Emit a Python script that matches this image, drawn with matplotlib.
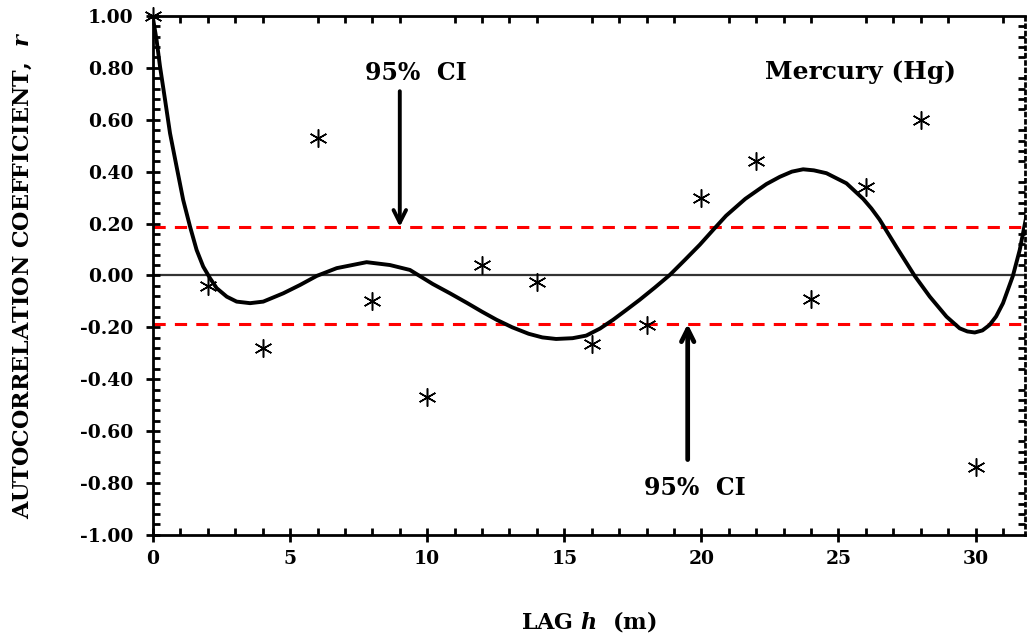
import matplotlib.pyplot as plt
from matplotlib.ticker import MultipleLocator

plt.rcParams['mathtext.fontset'] = 'dejavuserif'

# lag (m) and autocorrelation coefficient
lag = [0, 2, 4, 6, 8, 10, 12, 14, 16, 18, 20, 22, 24, 26, 28, 30]
r = [1.00, -0.04, -0.28, 0.53, -0.10, -0.47, 0.04, -0.025, -0.265, -0.19,
     0.30, 0.44, -0.09, 0.34, 0.60, -0.74]
ci = 0.187

# trend line
trend_x = [0.0, 0.13, 0.255, 0.44, 0.62, 0.86, 1.10, 1.35, 1.59, 1.83, 2.08,
           2.32, 2.69, 3.05, 3.54, 4.02, 4.75, 5.36, 5.97, 6.70, 7.79, 8.64,
           9.37, 10.2, 10.83, 11.45, 12.0, 12.53, 13.1, 13.7, 14.2, 14.7,
           15.3, 15.8, 16.3, 16.78, 17.25, 17.75, 18.3, 18.85, 19.4, 19.94,
           20.45, 20.9, 21.6, 22.37, 22.86, 23.3, 23.71, 24.1, 24.56, 25.29,
           25.9, 26.2, 26.5, 27.11, 27.78, 28.33, 28.94, 29.42, 29.7, 29.97,
           30.25, 30.51, 30.75, 31.0, 31.36, 31.61, 31.85]
trend_r = [0.99, 0.907, 0.805, 0.676, 0.548, 0.419, 0.291, 0.188, 0.098,
           0.034, -0.011, -0.049, -0.082, -0.101, -0.107, -0.101, -0.069,
           -0.037, -0.002, 0.028, 0.051, 0.040, 0.021, -0.033, -0.069,
           -0.106, -0.14, -0.171, -0.20, -0.225, -0.239, -0.245, -0.242,
           -0.232, -0.205, -0.171, -0.134, -0.094, -0.047, 0.002, 0.06, 0.118,
           0.178, 0.23, 0.295, 0.352, 0.38, 0.400, 0.409, 0.405, 0.394,
           0.355, 0.295, 0.258, 0.215, 0.11, -0.002, -0.082, -0.159, -0.204,
           -0.216, -0.220, -0.212, -0.191, -0.158, -0.107, -0.002, 0.098,
           0.227]

fig = plt.figure(figsize=(10.27, 6.39), dpi=100)
ax = fig.add_axes([0.149, 0.163, 0.849, 0.812])

ax.axhline(0, color='#333333', lw=1.6, zorder=1)
ax.axhline(ci, color='red', lw=2.2, ls=(0, (4, 3)), zorder=1)
ax.axhline(-ci, color='red', lw=2.2, ls=(0, (4, 3)), zorder=1)
ax.plot(trend_x, trend_r, color='black', lw=2.8, zorder=2,
        solid_joinstyle='round', solid_capstyle='round')
ax.plot(lag, r, ls='none', marker=(6, 2, 0), ms=13, mew=1.1, color='black',
        zorder=3, clip_on=False)

ax.set_xlim(0, 31.8)
ax.set_ylim(-1, 1)
ax.xaxis.set_major_locator(MultipleLocator(5))
ax.xaxis.set_minor_locator(MultipleLocator(1))
ax.yaxis.set_major_locator(MultipleLocator(0.2))
ax.yaxis.set_minor_locator(MultipleLocator(0.04))
ax.yaxis.set_major_formatter(plt.FuncFormatter(lambda v, p: f'{v:.2f}'))

ax.tick_params(which='major', direction='inout', length=10, width=2,
               top=False, right=False)
ax.tick_params(which='minor', direction='in', length=5, width=2,
               top=True, right=True)
ax.tick_params(axis='x', which='major', labelsize=13.5, pad=6)
ax.tick_params(axis='y', which='major', labelsize=13.5, pad=9)
for lab in ax.get_xticklabels() + ax.get_yticklabels():
    lab.set_fontfamily('DejaVu Serif')
    lab.set_fontweight('bold')

for s in ['left', 'bottom', 'top']:
    ax.spines[s].set_linewidth(2)
ax.spines['right'].set_linestyle(':')
ax.spines['right'].set_linewidth(2)

ax.set_xlabel('LAG $\\mathbfit{h}$  (m)', fontsize=16, fontweight='bold',
              family='DejaVu Serif')
ax.xaxis.set_label_coords(0.5, -0.142)
ax.set_ylabel('AUTOCORRELATION COEFFICIENT,  $\\mathbfit{r}$', fontsize=16,
              fontweight='bold', family='DejaVu Serif')
ax.yaxis.set_label_coords(-0.137, 0.5)

ax.annotate('', xy=(9.0, ci), xytext=(9.0, 0.71),
            arrowprops=dict(arrowstyle='->,head_length=0.9,head_width=0.45',
                            lw=2.8, color='black', shrinkA=0, shrinkB=0))
ax.text(9.6, 0.78, '95%  CI', ha='center', va='center', fontsize=17,
        fontweight='bold', family='DejaVu Serif')
ax.annotate('', xy=(19.5, -ci), xytext=(19.5, -0.71),
            arrowprops=dict(arrowstyle='->,head_length=0.9,head_width=0.45',
                            lw=3.4, color='black', shrinkA=0, shrinkB=0))
ax.text(19.76, -0.82, '95%  CI', ha='center', va='center', fontsize=17,
        fontweight='bold', family='DejaVu Serif')
ax.text(25.8, 0.784, 'Mercury (Hg)', ha='center', va='center', fontsize=18,
        fontweight='bold', family='DejaVu Serif')

fig.savefig('out.png', dpi=100)
